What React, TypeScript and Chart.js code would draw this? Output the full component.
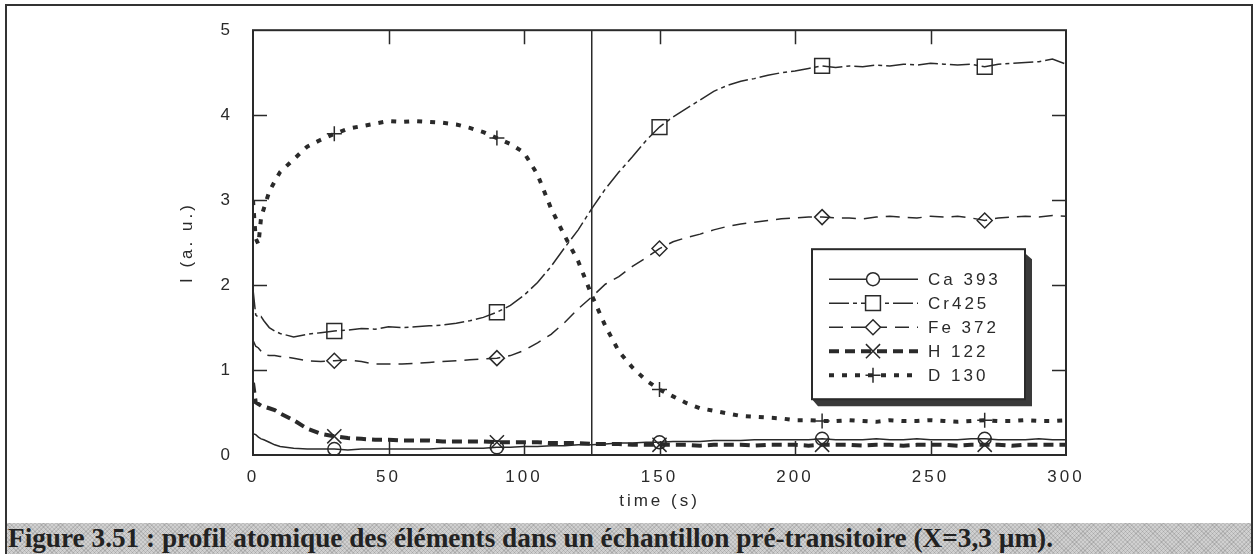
import React, { useEffect, useRef } from "react";
import { Chart, registerables } from "chart.js";

Chart.register(...registerables);

// ---- data ----
const times = [0, 1, 2, 3, 4, 6, 8, 10, 15, 20, 25, 30, 35, 40, 45, 50, 55, 60, 65, 70, 75, 80, 85, 90, 95, 100, 105, 110, 115, 120, 125, 130, 135, 140, 145, 150, 155, 160, 165, 170, 175, 180, 185, 190, 195, 200, 205, 210, 215, 220, 225, 230, 235, 240, 245, 250, 255, 260, 265, 270, 275, 280, 285, 290, 295, 300];

const ca393 = [0.25, 0.24, 0.21, 0.19, 0.18, 0.15, 0.12, 0.10,
  0.08, 0.07, 0.07, 0.07, 0.06, 0.07, 0.07, 0.07, 0.07, 0.07,
  0.07, 0.08, 0.08, 0.08, 0.08, 0.09, 0.09, 0.10, 0.10, 0.11,
  0.11, 0.12, 0.12, 0.13, 0.14, 0.14, 0.15, 0.15, 0.16, 0.16,
  0.16, 0.17, 0.17, 0.17, 0.18, 0.18, 0.18, 0.18, 0.18, 0.19,
  0.18, 0.18, 0.18, 0.19, 0.18, 0.18, 0.19, 0.18, 0.18, 0.18,
  0.19, 0.19, 0.18, 0.18, 0.18, 0.19, 0.18, 0.18];

const cr425 = [1.95, 1.65, 1.62, 1.63, 1.58, 1.50, 1.46, 1.43,
  1.39, 1.42, 1.44, 1.46, 1.47, 1.49, 1.48, 1.51, 1.50, 1.51,
  1.52, 1.53, 1.55, 1.58, 1.62, 1.68, 1.76, 1.88, 2.03, 2.22,
  2.44, 2.65, 2.90, 3.13, 3.33, 3.51, 3.70, 3.86, 3.98, 4.08,
  4.18, 4.28, 4.35, 4.40, 4.43, 4.47, 4.50, 4.52, 4.55, 4.58,
  4.56, 4.58, 4.57, 4.59, 4.58, 4.60, 4.59, 4.61, 4.60, 4.59,
  4.60, 4.57, 4.60, 4.61, 4.62, 4.63, 4.66, 4.60];

const fe372 = [1.35, 1.28, 1.26, 1.22, 1.18, 1.17, 1.17, 1.16,
  1.14, 1.11, 1.10, 1.11, 1.12, 1.10, 1.07, 1.07, 1.07, 1.08,
  1.09, 1.10, 1.11, 1.12, 1.13, 1.14, 1.17, 1.23, 1.32, 1.42,
  1.56, 1.72, 1.86, 2.01, 2.10, 2.22, 2.32, 2.43, 2.51, 2.56,
  2.60, 2.65, 2.69, 2.72, 2.74, 2.76, 2.78, 2.79, 2.80, 2.80,
  2.79, 2.79, 2.78, 2.80, 2.81, 2.80, 2.79, 2.81, 2.80, 2.81,
  2.79, 2.76, 2.79, 2.80, 2.81, 2.80, 2.82, 2.81];

const h122 = [0.85, 0.62, 0.60, 0.58, 0.57, 0.55, 0.53, 0.49,
  0.41, 0.31, 0.25, 0.22, 0.20, 0.19, 0.18, 0.18, 0.17, 0.17,
  0.17, 0.16, 0.16, 0.16, 0.16, 0.15, 0.15, 0.15, 0.15, 0.14,
  0.14, 0.14, 0.13, 0.13, 0.13, 0.12, 0.12, 0.12, 0.12, 0.12,
  0.11, 0.12, 0.12, 0.12, 0.11, 0.12, 0.12, 0.12, 0.11, 0.12,
  0.12, 0.12, 0.11, 0.12, 0.12, 0.11, 0.12, 0.12, 0.12, 0.11,
  0.12, 0.12, 0.12, 0.11, 0.12, 0.12, 0.12, 0.12];

const d130 = [3.00, 2.55, 2.48, 2.80, 2.90, 3.10, 3.22, 3.33,
  3.48, 3.63, 3.71, 3.78, 3.84, 3.87, 3.90, 3.93, 3.92, 3.93,
  3.92, 3.91, 3.89, 3.85, 3.80, 3.73, 3.66, 3.56, 3.30, 2.90,
  2.58, 2.28, 1.88, 1.52, 1.22, 1.03, 0.88, 0.77, 0.69, 0.61,
  0.55, 0.52, 0.49, 0.46, 0.45, 0.44, 0.43, 0.41, 0.41, 0.40,
  0.40, 0.41, 0.40, 0.39, 0.41, 0.40, 0.40, 0.41, 0.40, 0.39,
  0.40, 0.41, 0.40, 0.40, 0.41, 0.40, 0.40, 0.41];

const markerTimes = [30, 90, 150, 210, 270];
const markerLineTime = 125;
const seriesLabels = ["Ca 393", "Cr425", "Fe 372", "H 122", "D 130"];
const xTitle = "time (s)";
const yTitle = "I (a. u.)";
const caption = "Figure 3.51 : profil atomique des éléments dans un échantillon pré-transitoire (X=3,3 µm).";

// ---- styles ----
const INK = "#2a2a2a";
const FONT = "'Liberation Sans', Arial, sans-serif";
const TICK = 14;

const toPoints = (vals: number[]) => times.map((t, i) => ({ x: t, y: vals[i] }));
const markerRadius = (r: number) => (c: any) =>
  markerTimes.includes(times[c.dataIndex]) ? r : 0;

function drawMarker(ctx: CanvasRenderingContext2D, style: string, x: number, y: number, r: number) {
  ctx.beginPath();
  if (style === "circle") {
    ctx.arc(x, y, r, 0, Math.PI * 2);
  } else if (style === "rect") {
    const s = r * Math.SQRT1_2;
    ctx.rect(x - s, y - s, 2 * s, 2 * s);
  } else if (style === "rectRot") {
    ctx.moveTo(x, y - r); ctx.lineTo(x + r, y); ctx.lineTo(x, y + r); ctx.lineTo(x - r, y); ctx.closePath();
  } else if (style === "crossRot") {
    const s = r * Math.SQRT1_2;
    ctx.moveTo(x - s, y - s); ctx.lineTo(x + s, y + s);
    ctx.moveTo(x + s, y - s); ctx.lineTo(x - s, y + s);
  } else if (style === "cross") {
    ctx.moveTo(x - r, y); ctx.lineTo(x + r, y);
    ctx.moveTo(x, y - r); ctx.lineTo(x, y + r);
  }
  ctx.stroke();
}

const framePlugin = {
  id: "frameTicksLegend",
  beforeDraw(chart: any) {
    (chart.ctx as any).letterSpacing = "3px";
  },
  afterDatasetsDraw(chart: any) {
    const { ctx, chartArea: a, scales } = chart;
    const xs = scales.x, ys = scales.y;
    ctx.save();
    (ctx as any).letterSpacing = "0px";
    ctx.setLineDash([]);
    ctx.strokeStyle = INK;
    ctx.lineWidth = 2;
    ctx.strokeRect(a.left, a.top, a.right - a.left, a.bottom - a.top);
    ctx.lineWidth = 1.5;
    ctx.beginPath();
    xs.ticks.forEach((t: any) => {
      if (t.value <= xs.min || t.value >= xs.max) return;
      const px = Math.round(xs.getPixelForValue(t.value)) + 0.5;
      ctx.moveTo(px, a.bottom); ctx.lineTo(px, a.bottom - TICK);
      ctx.moveTo(px, a.top); ctx.lineTo(px, a.top + TICK);
    });
    ys.ticks.forEach((t: any) => {
      if (t.value <= ys.min || t.value >= ys.max) return;
      const py = Math.round(ys.getPixelForValue(t.value)) + 0.5;
      ctx.moveTo(a.left, py); ctx.lineTo(a.left + TICK, py);
      ctx.moveTo(a.right, py); ctx.lineTo(a.right - TICK, py);
    });
    ctx.stroke();

    // legend box
    const bx = a.right - 254, by = a.top + 219, bw = 213, bh = 150;
    ctx.fillStyle = "#3a3a3a";
    ctx.beginPath();
    ctx.moveTo(bx + bw, by + 4);
    ctx.lineTo(bx + bw + 7, by + 10);
    ctx.lineTo(bx + bw + 7, by + bh + 7);
    ctx.lineTo(bx + 6, by + bh + 7);
    ctx.lineTo(bx, by + bh);
    ctx.lineTo(bx + bw, by + bh);
    ctx.closePath();
    ctx.fill();
    ctx.fillStyle = "#ffffff";
    ctx.fillRect(bx, by, bw, bh);
    ctx.lineWidth = 2;
    ctx.strokeRect(bx, by, bw, bh);

    const rowY0 = by + 30, rowGap = 24;
    const lx1 = bx + 17, lx2 = bx + 106, mx = bx + 61, tx = bx + 116;
    chart.data.datasets.slice(0, seriesLabels.length).forEach((ds: any, i: number) => {
      const ry = rowY0 + i * rowGap;
      ctx.strokeStyle = INK;
      ctx.lineWidth = ds.borderWidth;
      ctx.setLineDash(ds.borderDash || []);
      ctx.beginPath();
      ctx.moveTo(lx1, ry); ctx.lineTo(lx2, ry);
      ctx.stroke();
      ctx.setLineDash([]);
      ctx.lineWidth = 1.5;
      const r = ds.legendRadius;
      if (ds.pointStyle !== "crossRot" && ds.pointStyle !== "cross") {
        ctx.fillStyle = "#fff";
        ctx.beginPath();
        if (ds.pointStyle === "circle") ctx.arc(mx, ry, r, 0, Math.PI * 2);
        else if (ds.pointStyle === "rect") { const s = r * Math.SQRT1_2; ctx.rect(mx - s, ry - s, 2 * s, 2 * s); }
        else { ctx.moveTo(mx, ry - r); ctx.lineTo(mx + r, ry); ctx.lineTo(mx, ry + r); ctx.lineTo(mx - r, ry); ctx.closePath(); }
        ctx.fill();
      }
      drawMarker(ctx, ds.pointStyle, mx, ry, r);
      (ctx as any).letterSpacing = "3px";
      ctx.fillStyle = INK;
      ctx.font = `17px ${FONT}`;
      ctx.textAlign = "left";
      ctx.textBaseline = "middle";
      ctx.fillText(ds.label, tx, ry + 1);
      (ctx as any).letterSpacing = "0px";
    });
    ctx.restore();
  },
  afterDraw(chart: any) {
    (chart.ctx as any).letterSpacing = "0px";
  },
};

function PlotCanvas() {
  const ref = useRef<HTMLCanvasElement>(null);
  useEffect(() => {
    if (!ref.current) return;
    const common = {
      borderColor: INK,
      pointBorderColor: INK,
      pointBackgroundColor: "rgba(0,0,0,0)",
      pointBorderWidth: 1.5,
      pointHoverRadius: 0,
      tension: 0,
      fill: false,
    };
    const chart = new Chart(ref.current, {
      type: "line",
      data: {
        datasets: [
          { ...common, label: seriesLabels[0], data: toPoints(ca393), borderWidth: 1.5, borderDash: [], pointStyle: "circle", pointRadius: markerRadius(6.5), legendRadius: 6.5 } as any,
          { ...common, label: seriesLabels[1], data: toPoints(cr425), borderWidth: 1.5, borderDash: [20, 4, 4, 4], pointStyle: "rect", pointRadius: markerRadius(10.5), legendRadius: 10.5 } as any,
          { ...common, label: seriesLabels[2], data: toPoints(fe372), borderWidth: 1.5, borderDash: [14, 8], pointStyle: "rectRot", pointRadius: markerRadius(7.5), legendRadius: 7.5 } as any,
          { ...common, label: seriesLabels[3], data: toPoints(h122), borderWidth: 4, borderDash: [10, 6], pointStyle: "crossRot", pointRadius: markerRadius(10), legendRadius: 10 } as any,
          { ...common, label: seriesLabels[4], data: toPoints(d130), borderWidth: 4, borderDash: [5, 8], pointStyle: "cross", pointRadius: markerRadius(7.5), legendRadius: 7.5 } as any,
          { ...common, label: "", data: [{ x: markerLineTime, y: 0 }, { x: markerLineTime, y: 5 }], borderWidth: 1.5, pointRadius: 0 } as any,
        ],
      },
      options: {
        animation: false,
        responsive: false,
        devicePixelRatio: 1,
        events: [],
        layout: { padding: { left: 0, right: 190, top: 19, bottom: 0 } },
        plugins: { legend: { display: false }, tooltip: { enabled: false } },
        scales: {
          x: {
            type: "linear",
            min: 0,
            max: 300,
            afterFit: (s: any) => { s.height = 68; },
            grid: { display: false, drawTicks: false },
            border: { display: false },
            ticks: { stepSize: 50, color: INK, font: { family: FONT, size: 17 }, padding: 12, maxRotation: 0 },
            title: { display: true, text: xTitle, color: INK, font: { family: FONT, size: 17 }, padding: { top: 0, bottom: 11 } },
          },
          y: {
            type: "linear",
            min: 0,
            max: 5,
            afterFit: (s: any) => { s.width = 253; },
            grid: { display: false, drawTicks: false },
            border: { display: false },
            ticks: { stepSize: 1, color: INK, font: { family: FONT, size: 17 }, padding: 20 },
            title: { display: true, text: yTitle, color: INK, font: { family: FONT, size: 17 }, padding: { top: 177, bottom: 0 } },
          },
        },
      } as any,
      plugins: [framePlugin as any],
    });
    return () => chart.destroy();
  }, []);
  return <canvas ref={ref} width={1256} height={523} style={{ position: "absolute", left: 0, top: 0, width: 1256, height: 523 }} />;
}

export default function App() {
  const capRef = useRef<HTMLSpanElement>(null);
  useEffect(() => {
    const el = capRef.current;
    if (!el) return;
    el.style.transform = "none";
    const w = el.getBoundingClientRect().width;
    if (w > 0) el.style.transform = `scaleX(${1045 / w})`;
  }, []);
  return (
    <div style={{ position: "fixed", left: 0, top: 0, width: 1256, height: 554, overflow: "hidden", background: "#fff" }}>
      <PlotCanvas />
      <div
        style={{
          position: "absolute", left: 6, top: 523, width: 1246, height: 31, overflow: "hidden",
          backgroundColor: "#d0d0d0",
          backgroundImage:
            "repeating-linear-gradient(45deg, rgba(0,0,0,0.10) 0px, rgba(0,0,0,0.10) 1px, rgba(255,255,255,0) 1px, rgba(255,255,255,0) 3px), repeating-linear-gradient(-45deg, rgba(0,0,0,0.10) 0px, rgba(0,0,0,0.10) 1px, rgba(255,255,255,0) 1px, rgba(255,255,255,0) 3px)",
        }}
      >
        <span
          ref={capRef}
          style={{
            position: "absolute", left: 2, top: 0, display: "inline-block", transformOrigin: "0 0",
            font: "bold 27px 'Liberation Serif', 'Times New Roman', serif", lineHeight: "31px",
            whiteSpace: "nowrap", color: "#222",
          }}
        >
          {caption}
        </span>
      </div>
      <div
        style={{
          position: "absolute", left: 5, top: 4, width: 1248, height: 600, boxSizing: "border-box",
          border: "2px solid #333", pointerEvents: "none",
        }}
      />
    </div>
  );
}
